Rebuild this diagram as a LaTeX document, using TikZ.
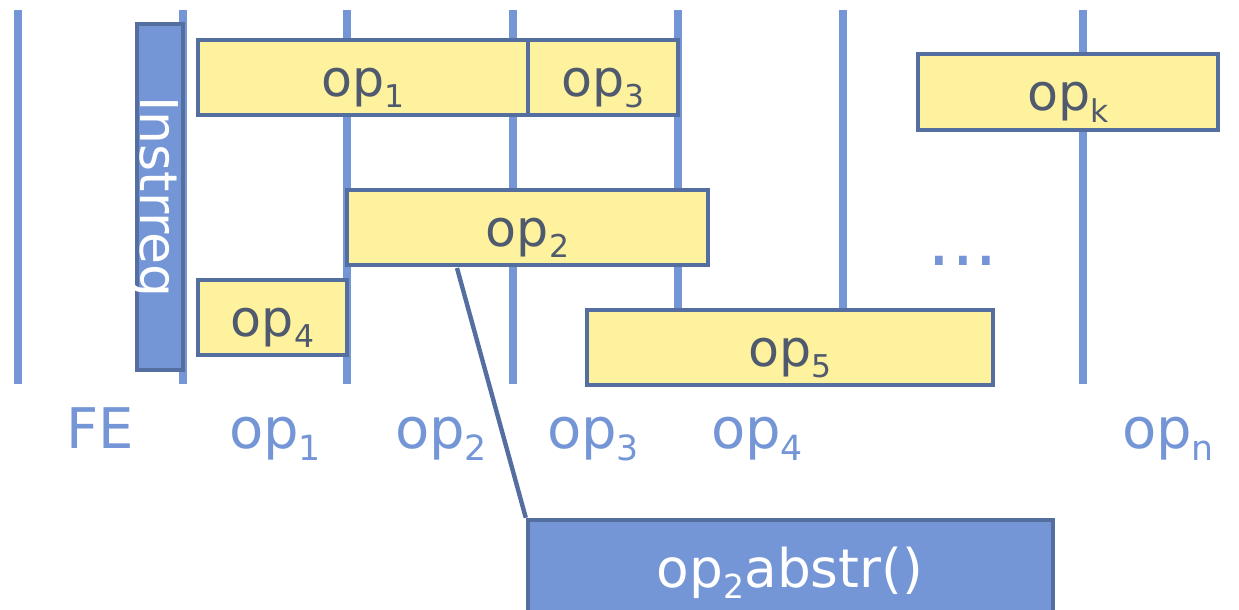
\documentclass[tikz,border=0pt]{standalone}
\usepackage{fontspec}
\usepackage{graphicx}
\setmainfont{DejaVu Sans}
\definecolor{lane}{RGB}{116,150,214}
\definecolor{edge}{RGB}{84,110,160}
\definecolor{slot}{RGB}{255,242,158}
\definecolor{ink}{RGB}{80,90,110}
\newcommand{\opsub}[2]{#1\raisebox{-0.22em}{\scalebox{0.62}{#2}}}
\tikzset{
  lanebar/.style={draw=lane, line width=5.5pt},
  opbox/.style={draw=edge, fill=slot, line width=3.3pt, inner sep=0pt},
  regbox/.style={draw=edge, fill=lane, line width=3.3pt, inner sep=0pt},
  optext/.style={text=ink, anchor=base, inner sep=0pt, font=\fontsize{38}{44}\selectfont},
  lanelabel/.style={text=lane, anchor=base, inner sep=0pt, font=\fontsize{42}{48}\selectfont},
}
% box from (x1,y1) to (x2,y2) in pixel units
\newcommand{\pbox}[6]{%
  \node[#2, minimum width={(#5-#3)*0.75pt}, minimum height={(#6-#4)*0.75pt}]
    (#1) at ({(#3+#5)/2},{(#4+#6)/2}) {};}
\begin{document}
\begin{tikzpicture}[x=0.75pt, y=-0.75pt]
\useasboundingbox (0,0) rectangle (1239,610);
% pipeline stage boundaries
\foreach \n/\x in {a/18,b/183,c/347,d/513,e/678,f/843,g/1083}{
  \coordinate (\n top) at (\x,10);
  \coordinate (\n bot) at (\x,384);
  \draw[lanebar] (\n top) -- (\n bot);
}
% instruction register
\pbox{ireg}{regbox}{137}{24}{183}{370}
\node[text=white, rotate=-90, inner sep=0pt, font=\fontsize{39}{44}\selectfont]
  (iregtxt) at ([xshift=-4.5pt]ireg.center) {Instrreg};
% operation slots
\pbox{o1}{opbox}{198}{40}{528}{115}
\pbox{o3}{opbox}{528}{40}{678}{115}
\pbox{ok}{opbox}{918}{54}{1218}{130}
\pbox{o2}{opbox}{347}{190}{708}{265}
\pbox{o4}{opbox}{198}{280}{347}{355}
\pbox{o5}{opbox}{587}{310}{993}{385}
\node[optext] (t1) at ([yshift=-19*0.75pt]o1.center) {\opsub{op}{1}};
\node[optext] (t3) at ([yshift=-19*0.75pt]o3.center) {\opsub{op}{3}};
\node[optext] (tk) at ([yshift=-19*0.75pt]ok.center) {\opsub{op}{k}};
\node[optext] (t2) at ([yshift=-19*0.75pt]o2.center) {\opsub{op}{2}};
\node[optext] (t4) at ([yshift=-19*0.75pt]o4.center) {\opsub{op}{4}};
\node[optext] (t5) at ([yshift=-19*0.75pt]o5.center) {\opsub{op}{5}};
\node[text=lane, anchor=base, inner sep=0pt, font=\fontsize{56}{60}\selectfont] (dots) at (963,265) {...};
% stage labels
\node[lanelabel] (lfe) at (100,448) {FE};
\node[lanelabel] (l1) at (275,448) {\opsub{op}{1}};
\node[lanelabel] (l2) at (441,448) {\opsub{op}{2}};
\node[lanelabel] (l3) at (593,448) {\opsub{op}{3}};
\node[lanelabel] (l4) at (757,448) {\opsub{op}{4}};
\node[lanelabel] (ln) at (1168,448) {\opsub{op}{n}};
% abstraction of op2
\pbox{abs}{regbox}{528}{520}{1053}{625}
\node[text=white, anchor=base, inner sep=0pt, font=\fontsize{40}{46}\selectfont] (abstxt) at (790,587)
  {\opsub{op}{2}abstr()};
\coordinate (tap) at (457,268);
\draw[draw=edge, line width=3.3pt] (tap) -- (abs.north west);
\end{tikzpicture}
\end{document}
